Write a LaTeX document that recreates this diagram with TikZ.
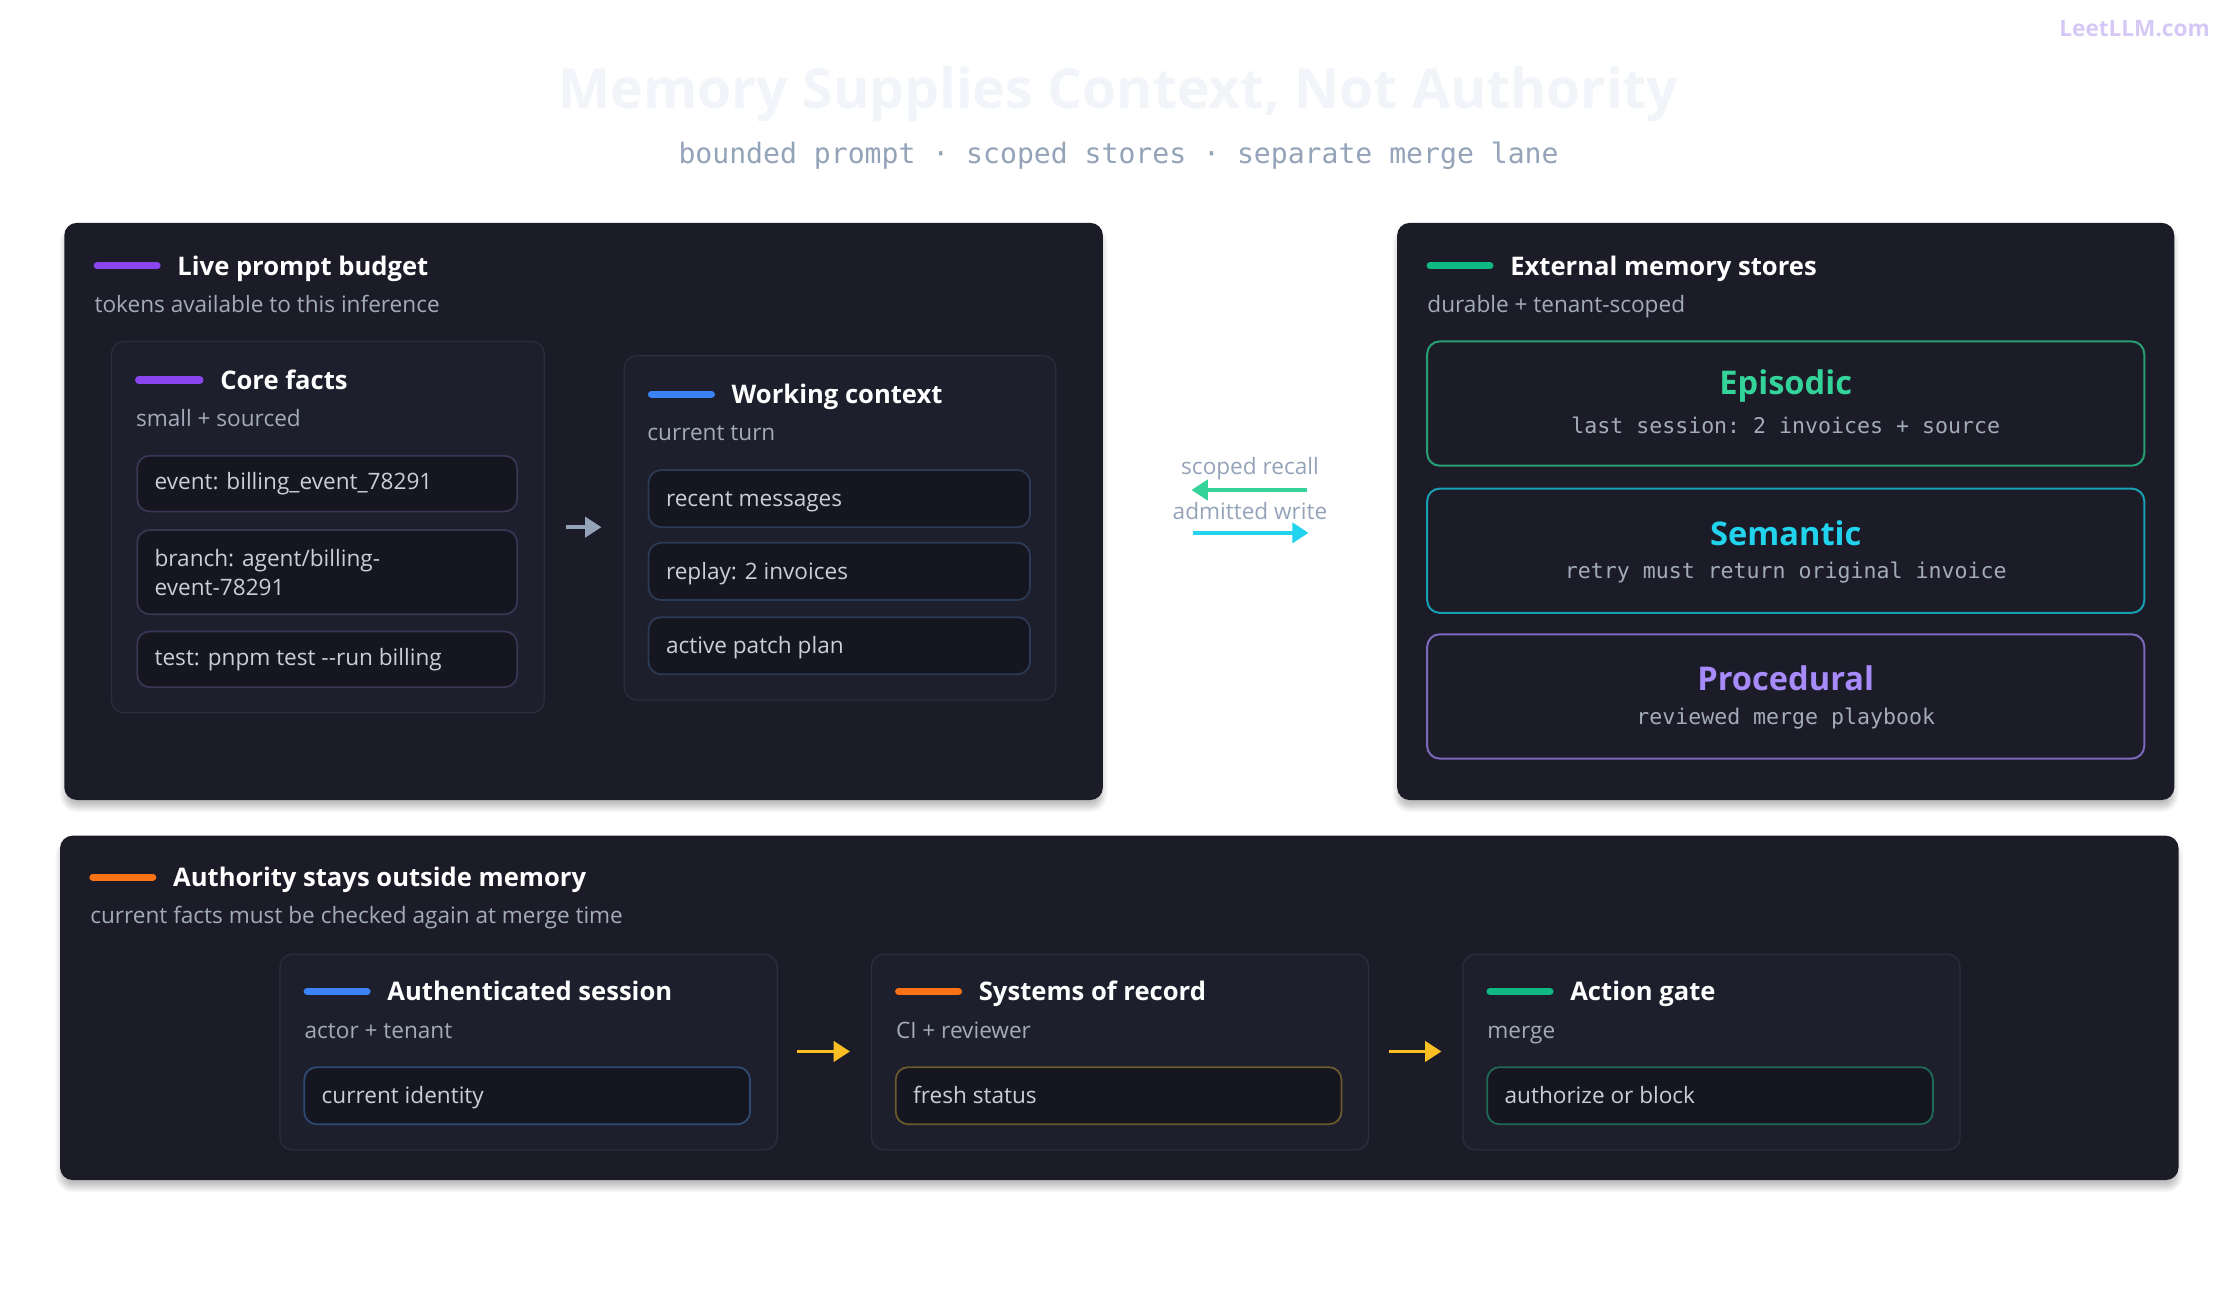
\documentclass[tikz,border=0pt]{standalone}
\usepackage{fontspec}
\setmainfont{Open Sans}
\setmonofont{DejaVu Sans Mono}
\usetikzlibrary{positioning,calc,arrows.meta,shadows.blur}

\definecolor{panel}{HTML}{1B1C28}
\definecolor{inner}{HTML}{1D1F2C}
\definecolor{innerln}{HTML}{2A2E3E}
\definecolor{item}{HTML}{151620}
\definecolor{sub}{HTML}{A3ABBA}
\definecolor{txt}{HTML}{C9CED8}
\definecolor{epi}{HTML}{34D399}
\definecolor{sem}{HTML}{22D3EE}
\definecolor{proc}{HTML}{A78BFA}
\definecolor{gold}{HTML}{FBBF24}
\definecolor{purplebar}{HTML}{8B45EE}
\definecolor{bluebar}{HTML}{3B82F6}
\definecolor{greenbar}{HTML}{10B981}
\definecolor{orangebar}{HTML}{F97316}
\definecolor{grayarrow}{HTML}{94A3B8}
\definecolor{coreln}{HTML}{3A3554}
\definecolor{workln}{HTML}{2B3A55}
\definecolor{idln}{HTML}{2F4B73}
\definecolor{statusln}{HTML}{6B5A2E}
\definecolor{gateln}{HTML}{1F6B55}

\tikzset{
  panel/.style={draw=none, fill=panel, rounded corners=5pt, blur shadow={shadow blur steps=6, shadow xshift=0pt, shadow yshift=-3pt, shadow opacity=25}},
  box/.style={draw=innerln, fill=inner, rounded corners=5pt, line width=0.5pt},
  item/.style={draw=#1, fill=item, rounded corners=5pt, line width=0.7pt},
  itemtext/.style={anchor=west, text=txt, font=\fontsize{9}{11.5}\selectfont, align=left},
  oneline/.style={text height=1.6ex, text depth=0.4ex},
  head/.style={anchor=west, text=white, oneline, font=\bfseries\fontsize{10.2}{12}\selectfont},
  subhead/.style={anchor=west, text=sub, oneline, font=\fontsize{9}{11}\selectfont},
  bar/.style={line width=2.8pt, line cap=round, draw=#1},
  store/.style={draw=#1, fill=panel, rounded corners=5pt, line width=0.8pt},
  storetitle/.style={text=#1, font=\bfseries\fontsize{13}{15}\selectfont},
  storesub/.style={text=sub, font=\ttfamily\fontsize{8.6}{10}\selectfont},
  flow/.style={-{Triangle[length=6.5pt,width=8pt]}, line width=1.5pt, draw=#1},
}

\begin{document}
\begin{tikzpicture}[x=0.02cm,y=-0.02cm]
    \useasboundingbox (0,0) rectangle (1568,910);

    % Title
    \node (title) at (783,66) {\textcolor[HTML]{F1F4F8}{\bfseries\fontsize{22}{26}\selectfont Memory Supplies Context, Not Authority}};
    \node (subtitle) at (783,109) {\textcolor{grayarrow}{\ttfamily\fontsize{11.2}{13}\selectfont bounded prompt · scoped stores · separate merge lane}};
    \node[anchor=east] (mark) at (1553,20) {\textcolor[HTML]{D6C8F5}{\bfseries\fontsize{9}{10}\selectfont LeetLLM.com}};

    % Live prompt budget
    \draw[panel] (45,156) rectangle (772,560);
    \draw[bar=purplebar] (68,186) -- (110,186);
    \node[head] (budget) at (118,187) {Live prompt budget};
    \node[subhead] (budgetsub) at (60,213) {tokens available to this inference};

    \draw[box] (78,239) rectangle (381,499);
    \draw[bar=purplebar] (97,266) -- (140,266);
    \node[head] (core) at (148,267) {Core facts};
    \node[subhead] (coresub) at (89,293) {small + sourced};
    \foreach \y/\h/\t [count=\k] in {319/39/{event: billing\_event\_78291}, 371/59/{branch: agent/billing-\\event-78291}, 442/39/{test: pnpm test -{}-run billing}} {
        \draw[item=coreln] (96,\y) rectangle (362,\y+\h);
        \node[itemtext] (core\k) at (102,\y+\h/2) {\t};
    }

    \draw[box] (437,249) rectangle (739,490);
    \draw[bar=bluebar] (456,276) -- (498,276);
    \node[head] (work) at (506,277) {Working context};
    \node[subhead] (worksub) at (447,303) {current turn};
    \foreach \y/\t [count=\k] in {329/{recent messages}, 380/{replay: 2 invoices}, 432/{active patch plan}} {
        \draw[item=workln] (454,\y) rectangle (721,\y+40);
        \node[itemtext, oneline] (work\k) at (460,\y+20) {\t};
    }
    \coordinate (ga) at (396,369);
    \coordinate (gb) at (421,369);
    \draw[flow=grayarrow] (ga) -- (gb);

    % recall / write
    \node (recall) at (875,328) {\textcolor{grayarrow}{\fontsize{9}{10}\selectfont scoped recall}};
    \node (write) at (875,358) {\textcolor{grayarrow}{\fontsize{9}{10}\selectfont admitted write}};
    \coordinate (ra) at (915,343);
    \coordinate (rb) at (834,343);
    \coordinate (wa) at (835,373);
    \coordinate (wb) at (916,373);
    \draw[flow=epi] (ra) -- (rb);
    \draw[flow=sem] (wa) -- (wb);

    % External memory stores
    \draw[panel] (978,156) rectangle (1522,560);
    \draw[bar=greenbar] (1001,186) -- (1043,186);
    \node[head] (stores) at (1051,187) {External memory stores};
    \node[subhead] (storessub) at (993,213) {durable + tenant-scoped};
    \foreach \y/\col/\n/\s in {239/epi/Episodic/{last session: 2 invoices + source}, 342/sem/Semantic/{retry must return original invoice}, 444/proc/Procedural/{reviewed merge playbook}} {
        \draw[store=\col!75!black] (999,\y) rectangle (1501,\y+87);
        \node[storetitle=\col] (\n) at (1250,\y+31) {\n};
        \node[storesub] (\n sub) at (1250,\y+59) {\s};
    }

    % Authority lane
    \draw[panel] (42,585) rectangle (1525,826);
    \draw[bar=orangebar] (65,614) -- (107,614);
    \node[head] (auth) at (115,615) {Authority stays outside memory};
    \node[subhead] (authsub) at (57,641) {current facts must be checked again at merge time};
    \foreach \x/\col/\lcol/\n/\t/\s/\itm in {196/bluebar/idln/session/{Authenticated session}/{actor + tenant}/{current identity}, 610/orangebar/statusln/record/{Systems of record}/{CI + reviewer}/{fresh status}, 1024/greenbar/gateln/gate/{Action gate}/{merge}/{authorize or block}} {
        \draw[box] (\x,668) rectangle (\x+348,805);
        \draw[bar=\col] (\x+19,694) -- (\x+61,694);
        \node[head] (\n) at (\x+69,695) {\t};
        \node[subhead] (\n sub) at (\x+11,721) {\s};
        \draw[item=\lcol] (\x+17,747) rectangle (\x+329,787);
        \node[itemtext, oneline] (\n item) at (\x+23,767) {\itm};
    }
    \coordinate (ya) at (558,736);
    \coordinate (yb) at (595,736);
    \coordinate (yc) at (972,736);
    \coordinate (yd) at (1009,736);
    \draw[flow=gold] (ya) -- (yb);
    \draw[flow=gold] (yc) -- (yd);
\end{tikzpicture}
\end{document}
